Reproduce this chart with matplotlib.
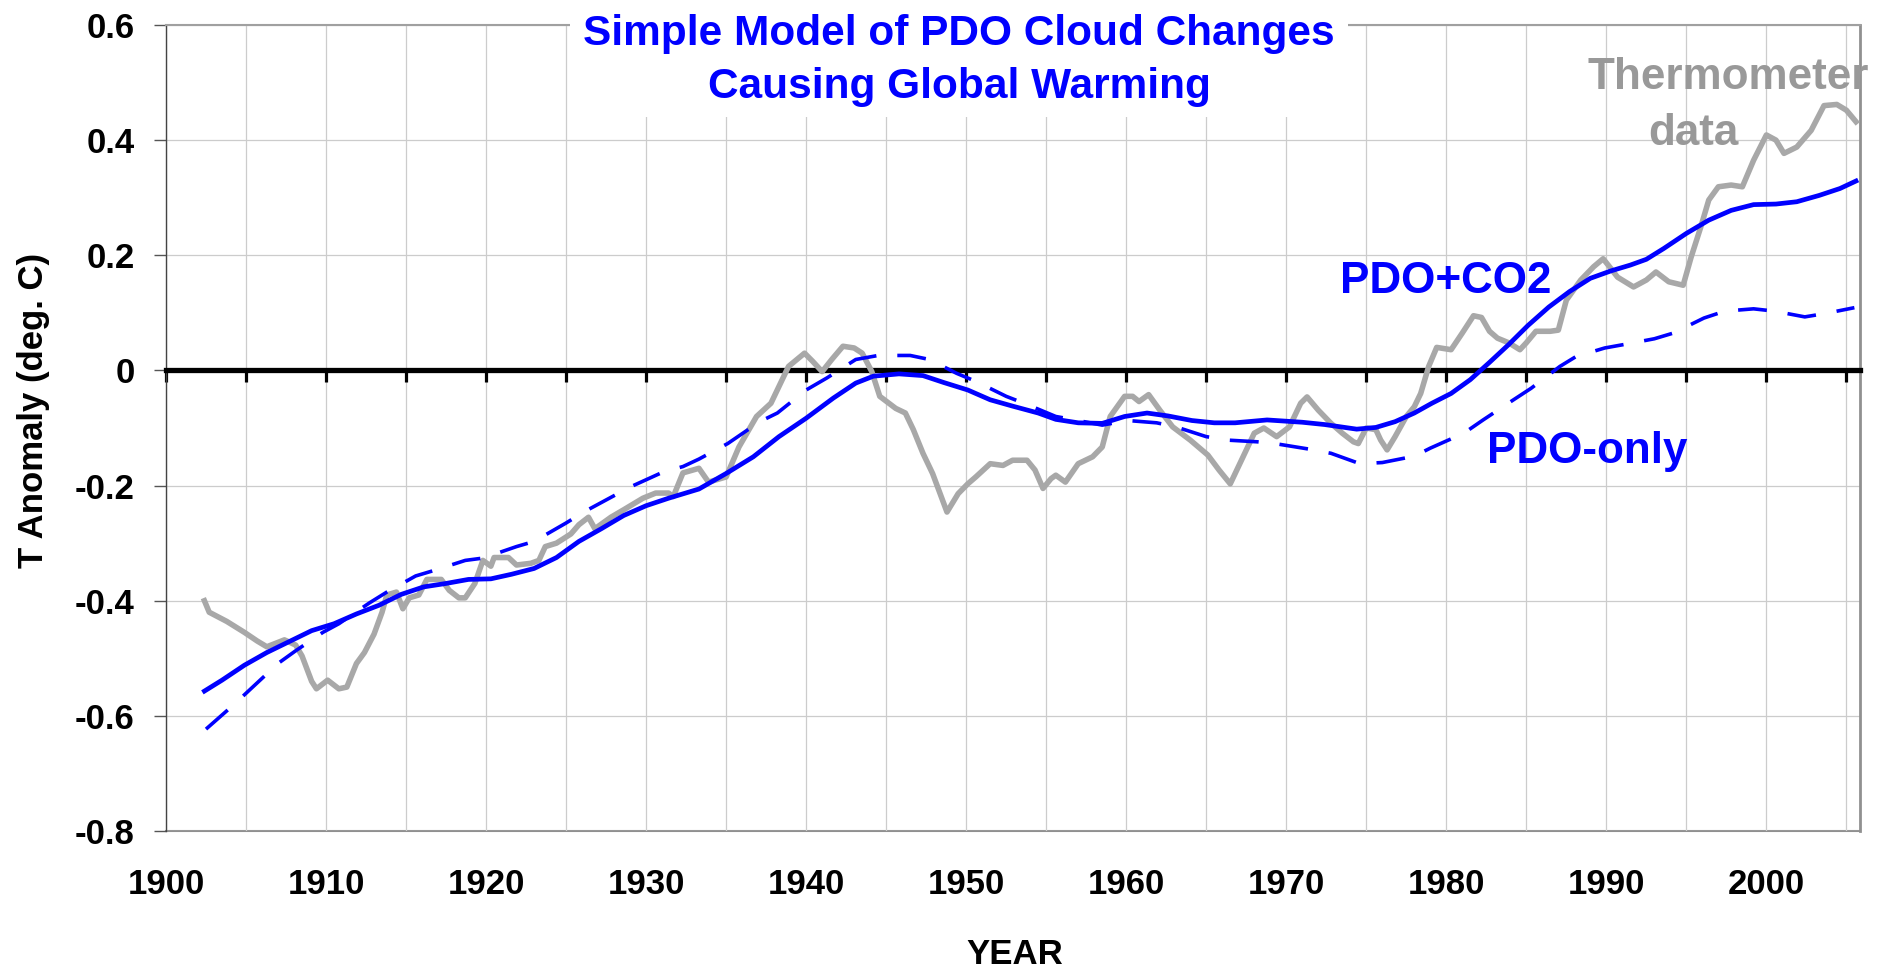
import matplotlib
matplotlib.use("Agg")
import matplotlib.pyplot as plt
import numpy as np
from matplotlib.patches import Rectangle

plt.rcParams['font.family'] = ['Liberation Sans', 'DejaVu Sans']
plt.rcParams['font.weight'] = 'bold'

# thermometer record (gray)
therm_years = [1902.4, 1902.7, 1903.8, 1904.9, 1905.7, 1906.3, 1907.4, 1908.1, 1908.5, 1909.1,
               1909.4, 1910.1, 1910.8, 1911.3, 1911.9, 1912.4, 1913.0, 1913.5, 1913.8, 1914.4,
               1914.8, 1915.2, 1915.8, 1916.3, 1917.2, 1917.7, 1918.3, 1918.7, 1919.3, 1919.8,
               1920.3, 1920.5, 1921.4, 1921.9, 1922.8, 1923.3, 1923.7, 1924.4, 1925.3, 1925.8,
               1926.4, 1926.8, 1927.8, 1928.6, 1929.8, 1930.6, 1931.4, 1931.7, 1932.3, 1933.3,
               1933.9, 1935.0, 1935.8, 1936.9, 1937.8, 1938.9, 1939.9, 1940.4, 1941.0, 1941.6,
               1942.3, 1943.0, 1943.5, 1944.1, 1944.6, 1945.6, 1946.2, 1946.7, 1947.3, 1947.9,
               1948.8, 1949.5, 1950.1, 1950.6, 1951.5, 1952.3, 1952.9, 1953.8, 1954.3, 1954.8,
               1955.3, 1955.6, 1956.2, 1957.0, 1957.9, 1958.5, 1959.0, 1959.9, 1960.4, 1960.8,
               1961.4, 1962.1, 1962.9, 1964.0, 1965.1, 1965.8, 1966.5, 1967.3, 1968.0, 1968.6,
               1969.4, 1970.2, 1970.9, 1971.3, 1972.0, 1972.8, 1973.5, 1974.2, 1974.5, 1975.0,
               1975.6, 1975.9, 1976.3, 1976.8, 1977.5, 1978.0, 1978.4, 1978.9, 1979.4, 1980.3,
               1981.0, 1981.7, 1982.2, 1982.7, 1983.2, 1983.9, 1984.6, 1985.0, 1985.6, 1986.5,
               1987.0, 1987.5, 1988.4, 1989.2, 1989.8, 1990.2, 1990.7, 1991.7, 1992.5, 1993.1,
               1993.9, 1994.8, 1995.3, 1995.9, 1996.4, 1997.0, 1997.8, 1998.5, 1999.2, 2000.0,
               2000.6, 2001.1, 2001.9, 2002.8, 2003.6, 2004.4, 2005.0, 2005.6]
therm_temp = [-0.400, -0.420, -0.436, -0.455, -0.470, -0.480, -0.468, -0.477, -0.496, -0.540,
              -0.553, -0.538, -0.553, -0.550, -0.509, -0.490, -0.458, -0.420, -0.390, -0.385,
              -0.414, -0.395, -0.390, -0.363, -0.363, -0.382, -0.395, -0.395, -0.370, -0.330,
              -0.340, -0.325, -0.325, -0.338, -0.335, -0.330, -0.306, -0.300, -0.284, -0.268,
              -0.255, -0.275, -0.255, -0.242, -0.222, -0.213, -0.213, -0.219, -0.178, -0.170,
              -0.194, -0.185, -0.133, -0.080, -0.057, 0.007, 0.030, 0.016, -0.002, 0.019,
              0.042, 0.039, 0.030, -0.002, -0.045, -0.066, -0.074, -0.103, -0.144, -0.179,
              -0.246, -0.214, -0.197, -0.185, -0.162, -0.165, -0.156, -0.156, -0.173, -0.205,
              -0.188, -0.182, -0.194, -0.162, -0.150, -0.133, -0.080, -0.045, -0.045, -0.054,
              -0.042, -0.069, -0.098, -0.121, -0.147, -0.173, -0.197, -0.150, -0.109, -0.100,
              -0.115, -0.098, -0.057, -0.046, -0.069, -0.092, -0.109, -0.124, -0.127, -0.100,
              -0.103, -0.121, -0.138, -0.115, -0.080, -0.063, -0.040, 0.007, 0.040, 0.036,
              0.065, 0.095, 0.092, 0.068, 0.056, 0.048, 0.036, 0.048, 0.068, 0.068,
              0.070, 0.122, 0.157, 0.180, 0.194, 0.180, 0.162, 0.145, 0.157, 0.171,
              0.154, 0.148, 0.197, 0.249, 0.296, 0.319, 0.322, 0.319, 0.365, 0.409,
              0.400, 0.377, 0.388, 0.417, 0.460, 0.462, 0.452, 0.432]

# PDO + CO2 model (solid blue)
co2_years = [1902.4, 1903.5, 1904.9, 1906.3, 1907.7, 1909.1, 1910.5, 1911.9, 1913.3, 1914.7,
             1916.1, 1917.5, 1918.9, 1920.3, 1921.6, 1923.0, 1924.4, 1925.8, 1927.2, 1928.6,
             1930.0, 1931.4, 1933.3, 1935.0, 1936.7, 1938.3, 1940.0, 1941.7, 1943.1, 1944.2,
             1945.8, 1947.3, 1948.6, 1950.1, 1951.5, 1952.9, 1954.5, 1955.6, 1957.0, 1958.5,
             1959.9, 1961.3, 1962.6, 1964.1, 1965.5, 1966.8, 1968.8, 1971.0, 1972.4, 1973.4,
             1974.4, 1975.6, 1976.8, 1978.0, 1979.1, 1980.3, 1981.5, 1982.7, 1983.9, 1985.1,
             1986.4, 1987.7, 1989.0, 1990.3, 1991.5, 1992.5, 1993.6, 1995.0, 1996.4, 1997.8,
             1999.2, 2000.6, 2001.9, 2003.3, 2004.6, 2005.6]
co2_temp = [-0.557, -0.538, -0.512, -0.490, -0.471, -0.452, -0.440, -0.423, -0.408, -0.389,
            -0.376, -0.370, -0.363, -0.362, -0.354, -0.344, -0.325, -0.297, -0.275, -0.252,
            -0.235, -0.222, -0.206, -0.179, -0.150, -0.115, -0.083, -0.048, -0.022, -0.010,
            -0.006, -0.009, -0.021, -0.034, -0.051, -0.062, -0.074, -0.085, -0.091, -0.092,
            -0.080, -0.074, -0.079, -0.087, -0.091, -0.091, -0.086, -0.090, -0.094, -0.098,
            -0.102, -0.099, -0.089, -0.074, -0.057, -0.040, -0.016, 0.014, 0.045, 0.078,
            0.110, 0.137, 0.160, 0.173, 0.183, 0.193, 0.212, 0.238, 0.261, 0.278,
            0.288, 0.289, 0.293, 0.304, 0.316, 0.329]

# PDO only model (dashed blue)
pdo_years = [1902.5, 1904.3, 1905.3, 1907.0, 1908.1, 1909.8, 1910.8, 1912.7, 1913.8, 1915.6,
             1916.8, 1918.7, 1919.8, 1921.9, 1923.0, 1925.0, 1926.1, 1928.1, 1929.2, 1931.1,
             1932.3, 1933.3, 1935.1, 1937.1, 1938.2, 1940.0, 1941.3, 1943.1, 1944.5, 1946.5,
             1947.7, 1949.4, 1950.6, 1952.5, 1953.7, 1955.6, 1956.8, 1958.5, 1960.1, 1961.9,
             1963.1, 1965.0, 1966.3, 1968.2, 1969.5, 1971.5, 1972.8, 1974.6, 1976.0, 1978.0,
             1979.0, 1981.1, 1982.3, 1984.2, 1985.3, 1987.1, 1988.1, 1989.9, 1991.1, 1993.0,
             1994.2, 1996.1, 1997.4, 1999.2, 2000.5, 2002.4, 2003.7, 2005.5]
pdo_temp = [-0.623, -0.579, -0.553, -0.509, -0.487, -0.455, -0.440, -0.404, -0.385, -0.357,
            -0.347, -0.330, -0.326, -0.306, -0.297, -0.265, -0.246, -0.216, -0.200, -0.176,
            -0.167, -0.154, -0.127, -0.089, -0.074, -0.034, -0.013, 0.019, 0.026, 0.026,
            0.019, -0.005, -0.019, -0.045, -0.058, -0.080, -0.086, -0.095, -0.087, -0.091,
            -0.098, -0.115, -0.121, -0.124, -0.128, -0.137, -0.144, -0.162, -0.160, -0.149,
            -0.135, -0.109, -0.086, -0.051, -0.031, 0.007, 0.024, 0.039, 0.045, 0.055,
            0.065, 0.091, 0.103, 0.107, 0.103, 0.093, 0.099, 0.109]

W, H = 1894, 971
fig = plt.figure(figsize=(W / 100, H / 100), dpi=100)
ax = fig.add_axes([166 / W, 1 - 831 / H, (1860 - 166) / W, (831 - 25) / H])

ax.plot(therm_years, therm_temp, color='#a8a8a8', lw=4.0, zorder=3)
ax.plot(co2_years, co2_temp, color='#0000ff', lw=3.4, zorder=4)
ax.plot(pdo_years, pdo_temp, color='#0000ff', lw=2.6, dashes=(8.0, 5.8), zorder=4)

ax.set_xlim(1900, 2005.85)
ax.set_ylim(-0.8, 0.6)
ax.set_xticks(np.arange(1900, 2006, 5))
ax.set_yticks(np.arange(-0.8, 0.61, 0.2))
ax.set_yticklabels(['-0.8', '-0.6', '-0.4', '-0.2', '0', '0.2', '0.4', '0.6'])
ax.set_axisbelow(True)
ax.grid(True, color='#cccccc', lw=0.9)

# zero line carries the 5-year tick marks
ax.spines['bottom'].set_position(('data', 0))
ax.spines['bottom'].set_color('black')
ax.spines['bottom'].set_linewidth(3.8)
ax.tick_params(axis='x', direction='out', length=8.5, width=2.3, color='black',
               labelbottom=False)
ax.tick_params(axis='y', direction='out', length=8.6, width=1, color='#555555',
               labelsize=25, pad=14)
ax.spines['left'].set_color('#444444')
ax.spines['left'].set_linewidth(1)
ax.spines['top'].set_color('#a0a0a0')
ax.spines['top'].set_linewidth(1.5)
ax.spines['right'].set_color('#909090')
ax.spines['right'].set_linewidth(2)

sec = ax.secondary_xaxis('bottom')
sec.set_xticks(np.arange(1900, 2001, 10))
sec.tick_params(length=0, labelsize=25, pad=27)
sec.spines['bottom'].set_color('#909090')
sec.spines['bottom'].set_linewidth(1.5)

# white box behind the title
fig.add_artist(Rectangle((570 / W, 1 - 117 / H), (1348 - 570) / W, 117 / H,
                         transform=fig.transFigure, facecolor='white',
                         edgecolor='none', zorder=2))

def ftext(x, y, s, **kw):
    fig.text(x / W, 1 - y / H, s, zorder=3, **kw)

ftext(959, 45, 'Simple Model of PDO Cloud Changes', ha='center', va='baseline',
      fontsize=30.5, color='#0000ff')
ftext(959, 98, 'Causing Global Warming', ha='center', va='baseline',
      fontsize=30.5, color='#0000ff')

ftext(1728, 89, 'Thermometer', ha='center', va='baseline', fontsize=31.7, color='#999999')
ftext(1693, 145, 'data', ha='center', va='baseline', fontsize=31.7, color='#999999')
ftext(1446, 293, 'PDO+CO2', ha='center', va='baseline', fontsize=31.7, color='#0000ff')
ftext(1587, 463, 'PDO-only', ha='center', va='baseline', fontsize=31.7, color='#0000ff')

ftext(34, 410, 'T Anomaly (deg. C)', ha='center', va='center', rotation=90, fontsize=25)
ftext(1015, 954, 'YEAR', ha='center', va='center', fontsize=25)

fig.savefig('out.png', dpi=100)
